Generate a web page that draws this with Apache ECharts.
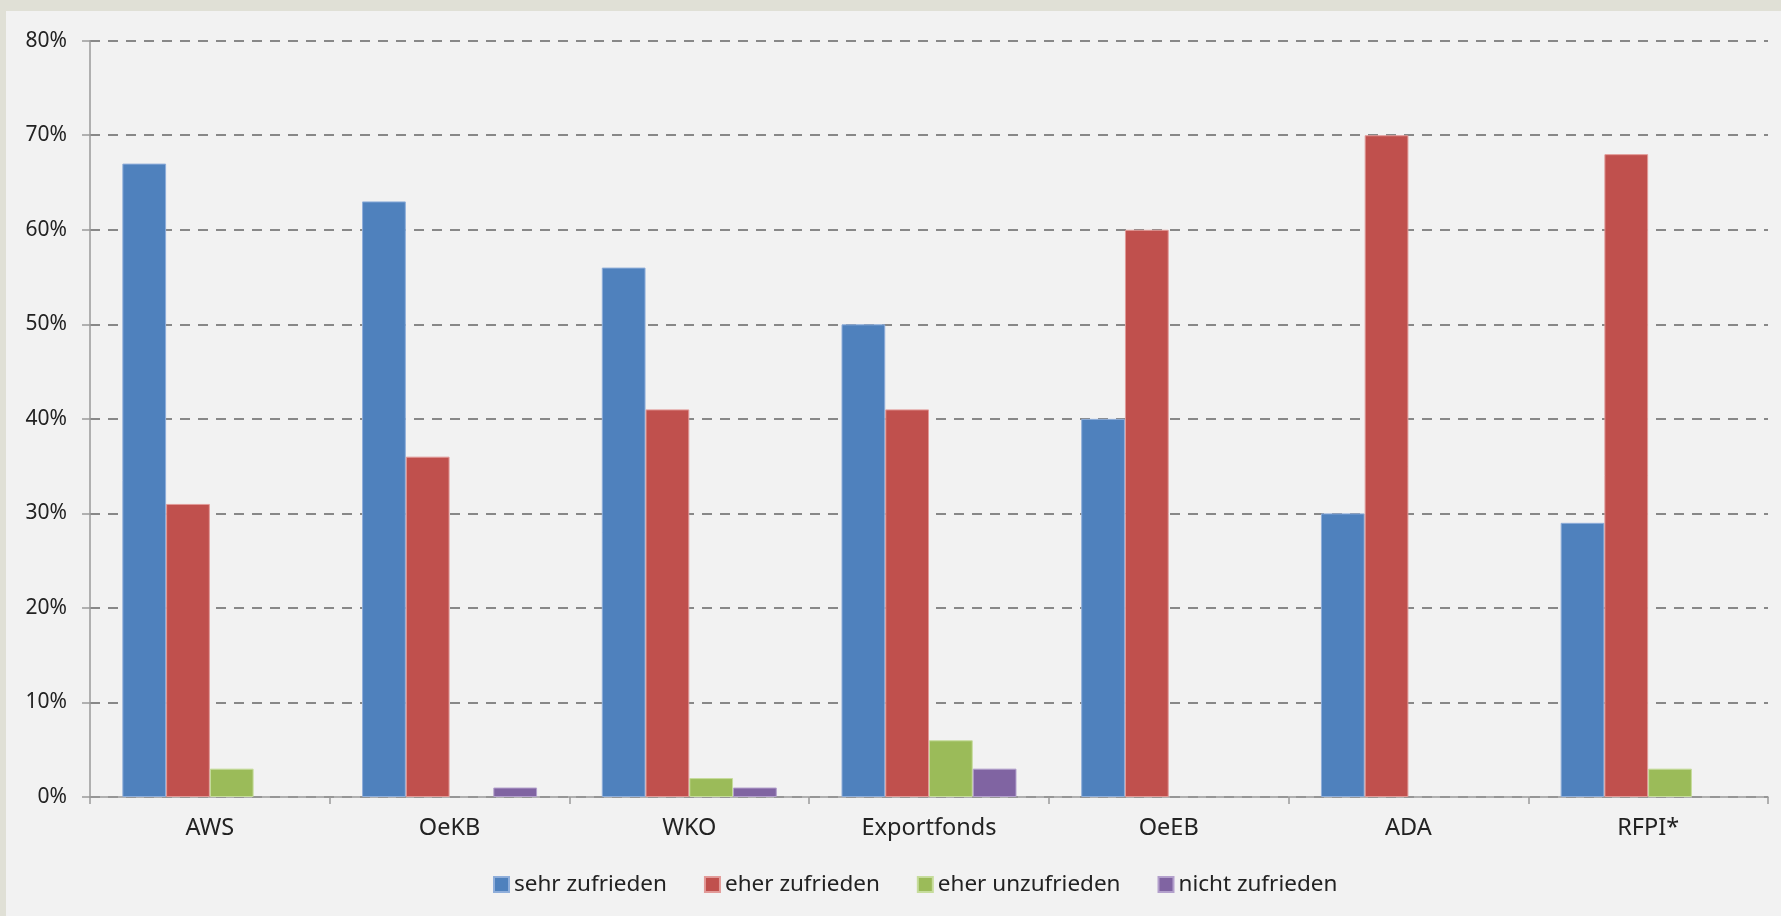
<!DOCTYPE html>
<html>
<head>
<meta charset="utf-8">
<script src="https://cdn.jsdelivr.net/npm/echarts@6/dist/echarts.min.js"></script>
<style>
html,body{margin:0;padding:0;background:#E0E0D6;width:1781px;height:916px;overflow:hidden;}
#chart{position:absolute;left:6px;top:11px;width:1775px;height:905px;background:#F2F2F2;}
</style>
</head>
<body>
<div id="chart"></div>
<script>
const categories = ['AWS', 'OeKB', 'WKO', 'Exportfonds', 'OeEB', 'ADA', 'RFPI*'];
const seriesNames = ['sehr zufrieden', 'eher zufrieden', 'eher unzufrieden', 'nicht zufrieden'];
const sehrZufrieden = [67, 63, 56, 50, 40, 30, 29];
const eherZufrieden = [31, 36, 41, 41, 60, 70, 68];
const eherUnzufrieden = [3, 0, 2, 6, 0, 0, 3];
const nichtZufrieden = [0, 1, 1, 3, 0, 0, 0];
const yTicks = [0, 10, 20, 30, 40, 50, 60, 70, 80];

const colors = ['#4F81BD', '#C0504D', '#9BBB59', '#8064A2'];
const borders = ['#8FAEDA', '#E29A98', '#C6DC9C', '#B3A0CC'];
const allData = [sehrZufrieden, eherZufrieden, eherUnzufrieden, nichtZufrieden];
const font = "'Noto Sans', 'Liberation Sans', Arial, sans-serif";

const chart = echarts.init(document.getElementById('chart'), null, {renderer: 'canvas'});
chart.setOption({
  backgroundColor: '#F2F2F2',
  animation: false,
  color: colors,
  grid: {left: 84, right: 13, top: 29.7, bottom: 119, containLabel: false},
  legend: {
    left: 482, top: 857,
    itemWidth: 15, itemHeight: 15, itemGap: 37,
    icon: 'rect',
    textStyle: {fontFamily: font, fontSize: 22.5, color: '#222'},
    data: seriesNames
  },
  xAxis: {
    type: 'category',
    data: categories,
    axisLine: {lineStyle: {color: '#9A9A9A', width: 1.5}},
    axisTick: {show: true, length: 7, lineStyle: {color: '#9A9A9A', width: 1.5}},
    axisLabel: {fontFamily: font, fontSize: 23.5, color: '#222', margin: 19}
  },
  yAxis: {
    type: 'value',
    min: yTicks[0], max: yTicks[yTicks.length - 1], interval: 10,
    axisLine: {show: true, lineStyle: {color: '#9A9A9A', width: 1.5}},
    axisTick: {show: true, length: 8, lineStyle: {color: '#9A9A9A', width: 1.5}},
    axisLabel: {fontFamily: font, fontSize: 21, color: '#222', margin: 23, formatter: v => v + '%'},
    splitLine: {show: true, lineStyle: {color: '#888888', width: 2, type: [10, 8]}}
  },
  series: seriesNames.map((n, i) => ({
    name: n,
    type: 'bar',
    data: allData[i].map(v => v === 0 ? {value: v, itemStyle: {borderWidth: 0}} : v),
    barGap: '0%',
    barCategoryGap: '27%',
    itemStyle: {color: colors[i], borderColor: borders[i], borderWidth: 1}
  }))
});
</script>
</body>
</html>
